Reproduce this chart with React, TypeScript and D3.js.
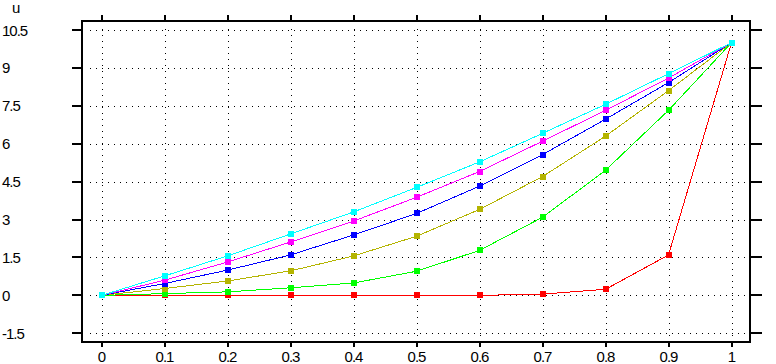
import React from "react";
import * as d3 from "d3";

const xValues = [0, 0.1, 0.2, 0.3, 0.4, 0.5, 0.6, 0.7, 0.8, 0.9, 1];
const xTicks = [0, 0.1, 0.2, 0.3, 0.4, 0.5, 0.6, 0.7, 0.8, 0.9, 1];
const yTicks = [-1.5, 0, 1.5, 3, 4.5, 6, 7.5, 9, 10.5];
const yTickLabels = ["-1.5", "0", "1.5", "3", "4.5", "6", "7.5", "9", "10.5"];
const xTickLabels = ["0", "0.1", "0.2", "0.3", "0.4", "0.5", "0.6", "0.7", "0.8", "0.9", "1"];

const redValues = [0, 0, 0, 0, 0, 0, 0, 0.05, 0.24, 1.6, 10];
const greenValues = [0, 0.07, 0.14, 0.3, 0.49, 0.955, 1.78, 3.09, 4.95, 7.32, 10];
const oliveValues = [0, 0.27, 0.57, 0.97, 1.56, 2.34, 3.4, 4.7, 6.3, 8.1, 10];
const blueValues = [0, 0.47, 1.0, 1.6, 2.39, 3.24, 4.32, 5.57, 6.97, 8.42, 10];
const magentaValues = [0, 0.6, 1.32, 2.11, 2.94, 3.88, 4.9, 6.1, 7.32, 8.6, 10];
const cyanValues = [0, 0.77, 1.56, 2.43, 3.3, 4.27, 5.28, 6.41, 7.56, 8.77, 10];

const seriesList = [
  { name: "red", color: "#ff0000", values: redValues },
  { name: "green", color: "#00ff00", values: greenValues },
  { name: "olive", color: "#b4b400", values: oliveValues },
  { name: "blue", color: "#0000ff", values: blueValues },
  { name: "magenta", color: "#ff00ff", values: magentaValues },
  { name: "cyan", color: "#00ffff", values: cyanValues },
];

const W = 776;
const H = 364;
const frame = { left: 82, top: 21, right: 750, bottom: 342 };

export default function App() {
  const x = d3.scaleLinear().domain([0, 1]).range([101.5, 731.5]);
  const y = d3.scaleLinear().domain([-1.5, 10.5]).range([333.3, 30]);
  const line = d3
    .line<number>()
    .x((_, i) => x(xValues[i]))
    .y((d) => y(d));
  const font = "'Liberation Sans', Arial, sans-serif";
  const ms = 6;
  return (
    <svg
      width={W}
      height={H}
      style={{ position: "absolute", left: 0, top: 0, background: "#fff" }}
      fontFamily={font}
    >
      <rect x={0} y={0} width={W} height={H} fill="#fff" />
      {/* grid */}
      <g stroke="#000" strokeWidth={1} strokeDasharray="1,5" shapeRendering="crispEdges">
        {yTicks.map((t) => (
          <line key={"gy" + t} x1={frame.left + 8} x2={frame.right} y1={Math.round(y(t)) + 0.5} y2={Math.round(y(t)) + 0.5} />
        ))}
        {xTicks.map((t) => (
          <line key={"gx" + t} x1={Math.round(x(t)) + 0.5} x2={Math.round(x(t)) + 0.5} y1={frame.top + 8} y2={frame.bottom} />
        ))}
      </g>
      {/* series */}
      {seriesList.map((s) => (
        <g key={s.name}>
          <path d={line(s.values) || ""} fill="none" stroke={s.color} strokeWidth={1} shapeRendering="crispEdges" />
          {s.values.map((v, i) => (
            <rect
              key={i}
              x={x(xValues[i]) - ms / 2}
              y={y(v) - ms / 2}
              width={ms}
              height={ms}
              fill={s.color}
              shapeRendering="crispEdges"
            />
          ))}
        </g>
      ))}
      {/* frame */}
      <rect
        x={frame.left}
        y={frame.top}
        width={frame.right - frame.left}
        height={frame.bottom - frame.top}
        fill="none"
        stroke="#000"
        strokeWidth={2}
        shapeRendering="crispEdges"
      />
      {/* ticks */}
      <g stroke="#000" strokeWidth={2} shapeRendering="crispEdges">
        {yTicks.map((t) => (
          <line key={"lt" + t} x1={72} x2={frame.left} y1={Math.round(y(t))} y2={Math.round(y(t))} />
        ))}
        {yTicks.map((t) => (
          <line key={"rt" + t} x1={frame.right} x2={762} y1={Math.round(y(t))} y2={Math.round(y(t))} />
        ))}
        {xTicks.map((t) => (
          <line key={"tt" + t} x1={Math.round(x(t))} x2={Math.round(x(t))} y1={15} y2={frame.top} />
        ))}
        {xTicks.map((t) => (
          <line key={"bt" + t} x1={Math.round(x(t))} x2={Math.round(x(t))} y1={frame.bottom} y2={347} />
        ))}
      </g>
      {/* labels */}
      <g fontSize={15} fill="#000" letterSpacing={-1}>
        {yTicks.map((t, i) => (
          <text key={"yl" + t} x={2} y={y(t)} dominantBaseline="central">
            {yTickLabels[i]}
          </text>
        ))}
        {xTicks.map((t, i) => (
          <text key={"xl" + t} x={x(t)} y={362} textAnchor="middle">
            {xTickLabels[i]}
          </text>
        ))}
        <text x={12} y={13}>u</text>
      </g>
    </svg>
  );
}
